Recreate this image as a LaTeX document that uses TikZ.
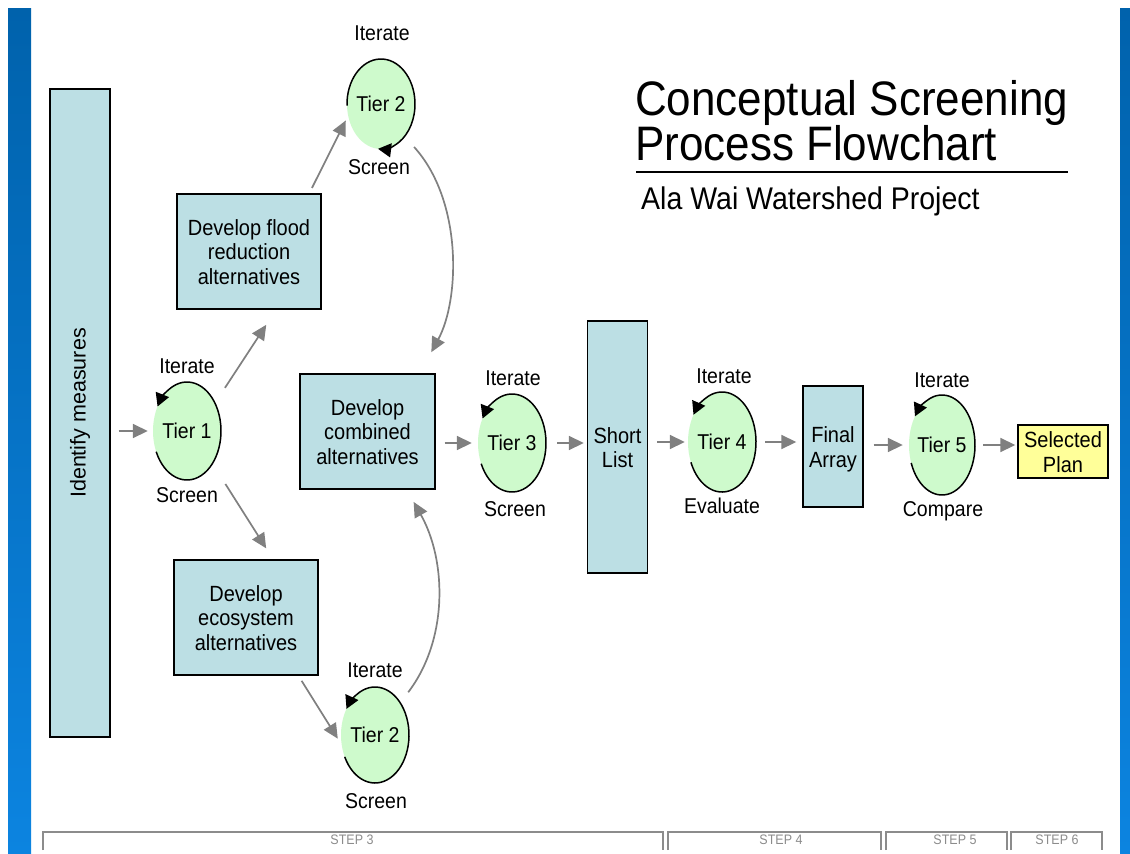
\documentclass[tikz,border=0pt]{standalone}
\usepackage{fontspec}
\setmainfont{Liberation Sans}
\usetikzlibrary{arrows.meta, calc, shapes.geometric}

\definecolor{boxblue}{RGB}{188,223,228}
\definecolor{tiergreen}{RGB}{206,250,204}
\definecolor{planyellow}{RGB}{255,255,153}
\definecolor{flowgray}{RGB}{128,128,128}
\definecolor{bardark}{RGB}{0,98,172}
\definecolor{barlight}{RGB}{12,132,224}
\definecolor{stepgray}{RGB}{140,140,140}

% slightly tall lettering, single line and stacked
\newcommand{\tall}[1]{\scalebox{1}[1.1]{#1}}
\newcommand{\stack}[1]{\raisebox{-3.5pt}[\height][\depth]{\scalebox{1}[1.1]{\begin{tabular}{@{}c@{}}#1\end{tabular}}}}

\tikzset{
  stagebox/.style={draw=black, line width=1.4pt, fill=boxblue, align=center,
    inner sep=0pt, font=\fontsize{20}{22.3}\selectfont},
  tier/.style={ellipse, fill=tiergreen, inner sep=0pt,
    font=\fontsize{19.5}{23}\selectfont},
  tierlabel/.style={anchor=base, inner sep=0pt, font=\fontsize{19.5}{23}\selectfont},
  loopline/.style={line width=1.5pt, -{Triangle[length=13pt,width=14pt]}},
  flow/.style={draw=flowgray, line width=1.7pt, -{Triangle[length=15pt,width=14pt]}},
  bracket/.style={draw=stepgray, line width=1.3pt},
  steplabel/.style={text=stepgray, font=\fontsize{12.5}{14}\selectfont, inner sep=0pt},
}

\begin{document}
\begin{tikzpicture}[x=1pt, y=1pt]
\useasboundingbox (0,0) rectangle (1130,-854);
\fill[white] (0,0) rectangle (1130,-854);

% slide edge bars
\shade[top color=bardark, bottom color=barlight] (8,-8) rectangle (31,-854);
\shade[top color=bardark, bottom color=barlight] (1120,-8) rectangle (1130,-854);

% title block
\node[anchor=base west, inner sep=0pt, font=\fontsize{44}{50}\selectfont]
  (title1) at (635,-115) {\tall{Conceptual Screening}};
\node[anchor=base west, inner sep=0pt, font=\fontsize{44}{50}\selectfont]
  (title2) at (635,-160) {\tall{Process Flowchart}};
\draw[line width=1.6pt] (636,-172) -- (1068,-172);
\node[anchor=base west, inner sep=0pt, font=\fontsize{28.5}{30}\selectfont]
  (subtitle) at (641,-209) {\tall{Ala Wai Watershed Project}};

% process boxes
\node[stagebox, font=\fontsize{21.5}{24}\selectfont, minimum width=60pt, minimum height=648pt] (idm) at (80,-413)
  {\rotatebox{90}{Identify measures}};
\node[stagebox, minimum width=144pt, minimum height=115pt] (flood) at (249,-251.5)
  {\stack{Develop flood\\reduction\\alternatives}};
\node[stagebox, minimum width=135pt, minimum height=115pt] (comb) at (367.5,-431.5)
  {\stack{Develop\\combined\\alternatives}};
\node[stagebox, minimum width=144pt, minimum height=115pt] (eco) at (246,-617.5)
  {\stack{Develop\\ecosystem\\alternatives}};
\node[stagebox, minimum width=60pt, minimum height=252pt] (short) at (617.5,-447)
  {\stack{Short\\List}};
\node[stagebox, minimum width=60pt, minimum height=121pt] (final) at (833,-446.5)
  {\stack{Final\\Array}};
\node[stagebox, fill=planyellow, minimum width=90pt, minimum height=53pt] (plan) at (1063,-451.5)
  {\stack{Selected\\Plan}};

% screening tiers
\node[tier, minimum width=68pt, minimum height=98pt] (t1) at (187,-431) {\makebox[0pt]{\tall{Tier 1}}};
\node[tier, minimum width=68pt, minimum height=90pt] (t2a) at (381,-104) {\makebox[0pt]{\tall{Tier 2}}};
\node[tier, minimum width=68pt, minimum height=96pt] (t2b) at (375,-735) {\makebox[0pt]{\tall{Tier 2}}};
\node[tier, minimum width=68pt, minimum height=98pt] (t3) at (512,-443) {\makebox[0pt]{\tall{Tier 3}}};
\node[tier, minimum width=68pt, minimum height=100pt] (t4) at (722,-442) {\makebox[0pt]{\tall{Tier 4}}};
\node[tier, minimum width=66pt, minimum height=100pt] (t5) at (942,-445) {\makebox[0pt]{\tall{Tier 5}}};

% iteration loops round each tier
\draw[loopline] ([shift={(205:34pt and 49pt)}]t1.center)
  arc[start angle=205, end angle=510, x radius=34pt, y radius=49pt];
\draw[loopline] ([shift={(182:34pt and 45pt)}]t2a.center)
  arc[start angle=182, end angle=-95, x radius=34pt, y radius=45pt];
\draw[loopline] ([shift={(207:34pt and 48pt)}]t2b.center)
  arc[start angle=207, end angle=507, x radius=34pt, y radius=48pt];
\draw[loopline] ([shift={(205:34pt and 49pt)}]t3.center)
  arc[start angle=205, end angle=510, x radius=34pt, y radius=49pt];
\draw[loopline] ([shift={(204:34pt and 50pt)}]t4.center)
  arc[start angle=204, end angle=507, x radius=34pt, y radius=50pt];
\draw[loopline] ([shift={(201:33pt and 50pt)}]t5.center)
  arc[start angle=201, end angle=505, x radius=33pt, y radius=50pt];

% tier captions
\node[tierlabel] (it1) at (187,-373) {\tall{Iterate}};
\node[tierlabel] (sc1) at (187,-502) {\tall{Screen}};
\node[tierlabel] (it2a) at (382,-40) {\tall{Iterate}};
\node[tierlabel] (sc2a) at (379,-174) {\tall{Screen}};
\node[tierlabel] (it2b) at (375,-677) {\tall{Iterate}};
\node[tierlabel] (sc2b) at (376,-808) {\tall{Screen}};
\node[tierlabel] (it3) at (513,-385) {\tall{Iterate}};
\node[tierlabel] (sc3) at (515,-516) {\tall{Screen}};
\node[tierlabel] (it4) at (724,-383) {\tall{Iterate}};
\node[tierlabel] (ev4) at (722,-513) {\tall{Evaluate}};
\node[tierlabel] (it5) at (942,-387) {\tall{Iterate}};
\node[tierlabel] (cp5) at (943,-516) {\tall{Compare}};

% flow between stages
\draw[flow, shorten <=8pt, shorten >=5pt] (idm.east |- t1.west) -- (t1.west);
\draw[flow, shorten <=18pt, shorten >=18pt] (t1.45) -- (flood.-65);
\draw[flow, shorten <=6pt, shorten >=5pt] (flood.44) -- (t2a.200);
\draw[flow, shorten <=14pt, shorten >=24pt] (t2a.-54)
  .. controls +(58,-64) and +(40,74) .. (comb.48);
\draw[flow, shorten <=24pt, shorten >=13pt] (t1.-52) -- (eco.65);
\draw[flow, shorten <=6pt, shorten >=7pt] (eco.-48) -- (t2b.196);
\draw[flow, shorten <=13pt, shorten >=14pt] (t2b.52)
  .. controls +(48,63) and +(40,-71) .. (comb.-56);
\draw[flow, shorten <=9pt, shorten >=6pt] (comb.east |- t3.west) -- (t3.west);
\draw[flow, shorten <=11pt, shorten >=3pt] (t3.east) -- (short.west |- t3.east);
\draw[flow, shorten <=9pt, shorten >=3pt] (short.east |- t4.west) -- (t4.west);
\draw[flow, shorten <=9pt, shorten >=6pt] (t4.east) -- (final.west |- t4.east);
\draw[flow, shorten <=10pt, shorten >=6pt] (final.east |- t5.west) -- (t5.west);
\draw[flow, shorten <=8pt, shorten >=2pt] (t5.east) -- (plan.west |- t5.east);

% step brackets along the bottom
\draw[bracket] (43,-850) -- (43,-832) -- (663,-832) -- (663,-850);
\draw[bracket] (668,-850) -- (668,-832) -- (881,-832) -- (881,-850);
\draw[bracket] (886,-850) -- (886,-832) -- (1007,-832) -- (1007,-850);
\draw[bracket] (1011,-850) -- (1011,-832) -- (1102,-832) -- (1102,-850);
\node[steplabel] (s3) at (352,-840) {\tall{STEP 3}};
\node[steplabel] (s4) at (781,-840) {\tall{STEP 4}};
\node[steplabel] (s5) at (955,-840) {\tall{STEP 5}};
\node[steplabel] (s6) at (1057,-840) {\tall{STEP 6}};
\end{tikzpicture}
\end{document}
